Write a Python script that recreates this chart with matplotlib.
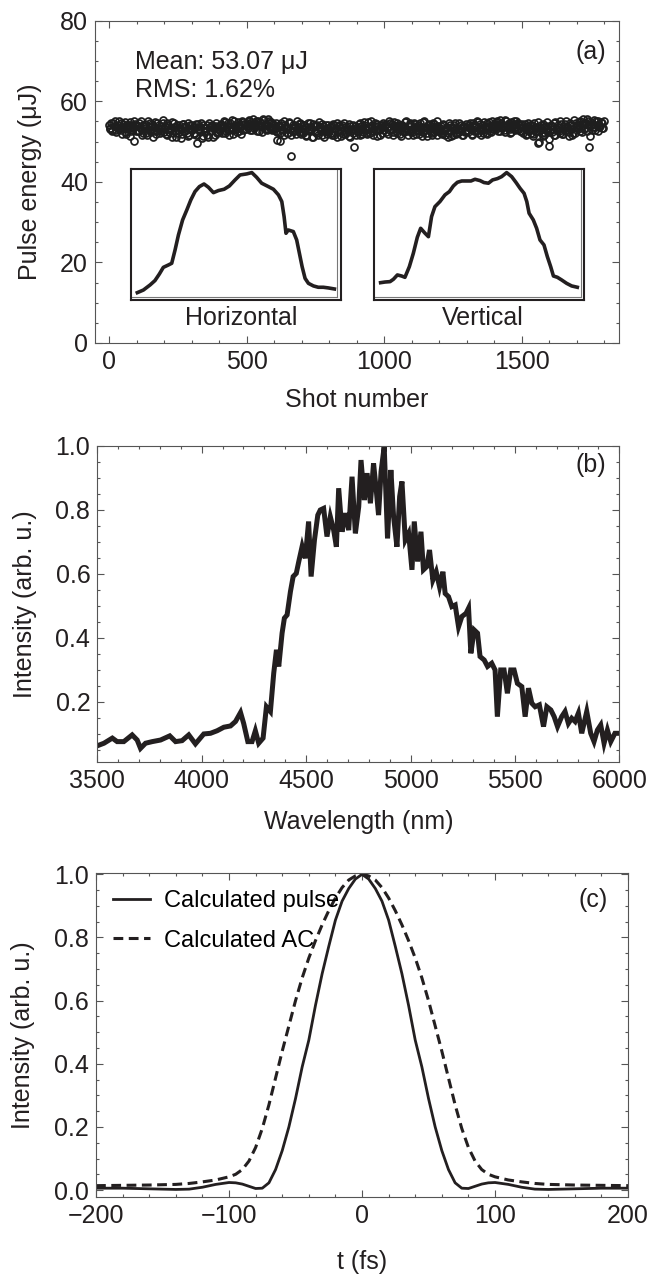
import numpy as np
import matplotlib
matplotlib.use('Agg')
import matplotlib.pyplot as plt
from matplotlib.ticker import MultipleLocator

plt.rcParams['font.family'] = ['Liberation Sans', 'DejaVu Sans']

# ---------------- (a) pulse energy per shot ----------------
# shots 0, 5, 10, ...
energy = [
    54.2, 53.1, 52.8, 54.6, 53.9, 52.4, 53.7, 55.1, 53.3, 52.9, 54.4, 53.6, 51.9, 54.0, 53.2, 54.8, 52.7, 53.5, 50.1, 54.3,
    53.8, 52.5, 54.7, 53.0, 51.6, 54.1, 53.4, 52.2, 55.0, 53.6, 52.9, 54.3, 51.2, 53.7, 52.6, 54.5, 53.1, 52.0, 53.9, 54.6,
    52.4, 53.8, 51.5, 54.2, 52.9, 53.3, 51.1, 54.7, 52.6, 53.5, 52.1, 54.0, 53.2, 51.8, 54.4, 52.7, 53.6, 51.4, 53.0, 54.1,
    52.8, 53.7, 51.9, 54.3, 49.6, 53.1, 52.3, 54.6, 51.3, 53.4, 52.7, 54.0, 51.0, 53.6, 52.5, 54.2, 53.0, 51.7, 53.9, 52.4,
    53.2, 54.4, 52.1, 53.8, 54.9, 52.7, 53.5, 51.6, 54.6, 53.1, 52.9, 55.2, 53.7, 52.3, 54.1, 53.4, 51.9, 54.8, 53.0, 54.3,
    54.5, 53.3, 55.4, 54.0, 52.8, 54.7, 53.6, 55.1, 54.2, 52.5, 54.9, 53.8, 55.5, 53.1, 54.4, 52.9, 55.0, 53.7, 54.6, 53.2,
    54.1, 52.6, 50.4, 53.9, 52.2, 54.5, 53.0, 51.5, 54.2, 53.4, 52.0, 54.8, 46.5, 53.3, 52.7, 54.0, 51.8, 53.6, 52.4, 54.6,
    53.3, 52.1, 54.2, 51.4, 53.7, 52.6, 54.5, 53.0, 51.2, 53.9, 52.4, 54.1, 51.7, 53.5, 52.8, 54.4, 51.0, 53.2, 52.5, 54.0,
    52.7, 53.9, 51.6, 54.3, 52.3, 53.4, 51.1, 54.0, 52.8, 53.6, 51.8, 54.5, 52.2, 53.1, 51.4, 53.8, 52.5, 54.2, 48.6, 53.0,
    53.6, 52.4, 54.7, 53.0, 51.9, 54.2, 53.3, 52.1, 54.9, 53.7, 52.6, 54.0, 51.5, 53.8, 52.9, 54.4, 53.2, 51.7, 54.1, 53.5,
    52.9, 54.3, 53.6, 51.8, 54.6, 53.1, 52.4, 54.9, 53.5, 52.0, 54.2, 53.8, 51.4, 54.0, 52.7, 53.3, 55.0, 52.5, 53.9, 54.4,
    53.0, 51.6, 54.3, 52.8, 53.7, 51.9, 54.6, 53.2, 52.3, 55.1, 53.5, 51.3, 54.0, 52.6, 53.8, 52.1, 54.4, 53.1, 51.7, 53.9,
    52.5, 53.9, 51.8, 54.2, 52.9, 53.4, 51.2, 54.5, 52.7, 53.6, 51.6, 54.0, 53.1, 52.2, 54.7, 52.8, 53.3, 51.5, 53.8, 52.4,
    53.7, 52.3, 54.5, 53.0, 51.9, 54.2, 53.5, 52.6, 54.8, 53.2, 51.6, 54.0, 52.9, 53.8, 52.1, 54.6, 53.4, 52.7, 55.2, 53.1,
    54.3, 53.1, 55.0, 53.7, 52.5, 54.6, 53.9, 52.8, 55.3, 54.1, 53.4, 52.2, 54.8, 53.6, 55.1, 52.9, 54.4, 53.2, 54.0, 52.6,
    53.6, 52.1, 54.4, 51.5, 53.9, 52.7, 54.2, 53.0, 51.8, 54.6, 52.4, 53.5, 49.7, 52.9, 54.1, 51.3, 53.7, 52.2, 54.8, 53.1,
    48.8, 53.8, 52.3, 54.5, 51.6, 53.2, 54.0, 52.6, 55.0, 53.4, 51.9, 54.3, 52.8, 53.7, 51.4, 54.6, 53.0, 52.2, 55.4, 53.5,
    54.2, 53.0, 55.1, 53.7, 52.4, 54.6, 53.3, 55.5, 54.0, 48.7, 54.9, 52.8, 54.4, 53.6, 55.2, 52.6, 54.1, 53.9, 54.7, 53.4,
]
# shots 2, 7, 12, ...
energy_b = [
    53.4, 54.7, 52.6, 53.9, 55.2, 52.9, 54.1, 53.0, 54.5, 51.8, 53.7, 54.9, 52.3, 53.5, 54.2, 51.3, 54.0, 53.3, 55.0, 52.7,
    54.0, 52.7, 53.5, 55.1, 52.0, 53.8, 54.4, 51.5, 53.2, 54.6, 52.4, 53.9, 52.8, 54.8, 51.9, 53.4, 54.2, 52.6, 53.0, 55.3,
    53.6, 51.9, 54.5, 52.3, 53.1, 54.8, 52.0, 53.7, 51.2, 54.0, 52.8, 53.4, 50.9, 54.3, 52.5, 53.9, 52.2, 54.6, 51.6, 53.2,
    54.0, 52.2, 53.5, 51.6, 54.4, 52.9, 53.7, 50.8, 54.1, 52.4, 53.3, 51.7, 54.7, 52.6, 53.9, 51.2, 53.4, 54.5, 52.0, 53.6,
    52.6, 54.1, 53.3, 55.0, 52.2, 53.9, 54.6, 52.8, 53.6, 55.3, 51.8, 54.2, 53.0, 54.8, 52.5, 53.8, 55.1, 52.9, 54.4, 53.2,
    53.8, 55.2, 52.9, 54.5, 55.6, 53.4, 54.1, 52.7, 55.0, 53.9, 54.7, 52.3, 55.3, 54.0, 53.2, 55.5, 53.6, 54.8, 52.8, 54.3,
    53.0, 54.7, 52.3, 53.8, 50.2, 54.2, 52.8, 55.0, 53.4, 52.1, 54.5, 53.1, 51.6, 54.0, 52.5, 53.7, 55.1, 52.9, 54.3, 51.9,
    52.4, 54.0, 53.1, 51.7, 54.6, 52.9, 53.5, 51.1, 54.3, 52.6, 53.8, 52.0, 54.9, 53.2, 51.5, 53.9, 52.7, 54.2, 51.8, 53.4,
    53.5, 52.0, 54.1, 51.5, 53.2, 54.6, 52.4, 53.8, 51.3, 54.2, 52.9, 51.8, 53.6, 52.6, 54.4, 51.2, 53.0, 52.2, 53.9, 51.7,
    52.7, 54.3, 51.6, 53.9, 52.4, 54.8, 53.0, 51.8, 53.6, 52.2, 55.0, 53.3, 52.5, 54.5, 51.3, 53.8, 52.8, 54.1, 52.0, 54.6,
    54.0, 52.3, 53.5, 55.1, 52.8, 54.4, 51.7, 53.9, 52.6, 54.7, 53.2, 51.9, 54.2, 53.6, 52.4, 54.9, 53.0, 51.5, 54.5, 52.7,
    52.4, 54.6, 53.3, 51.8, 54.1, 52.7, 53.6, 51.4, 54.8, 52.9, 53.4, 52.1, 54.3, 53.0, 51.6, 54.5, 52.3, 53.8, 55.2, 52.6,
    53.4, 52.0, 54.3, 52.6, 51.5, 53.7, 52.2, 54.0, 51.3, 53.5, 52.9, 54.6, 51.9, 53.2, 52.4, 54.1, 51.7, 53.9, 52.7, 54.4,
    52.8, 54.1, 53.6, 51.7, 54.6, 52.5, 53.9, 55.0, 52.2, 54.3, 53.1, 52.0, 54.8, 53.4, 51.9, 53.7, 54.9, 52.4, 53.5, 54.2,
    53.5, 54.8, 52.7, 54.2, 55.4, 53.3, 54.0, 52.4, 55.0, 53.8, 54.6, 53.1, 52.3, 54.4, 53.7, 55.2, 53.0, 54.7, 52.6, 54.1,
    54.3, 52.8, 53.4, 51.9, 54.7, 53.0, 52.2, 54.1, 51.4, 53.6, 52.5, 54.9, 50.0, 53.3, 52.0, 54.4, 51.6, 53.8, 52.6, 50.6,
    52.5, 54.2, 53.1, 51.5, 54.8, 52.9, 53.6, 52.1, 54.4, 51.8, 53.9, 52.7, 55.1, 53.3, 52.4, 54.0, 51.7, 53.8, 52.2, 54.6,
    53.6, 54.9, 52.7, 54.3, 55.6, 53.2, 54.6, 52.5, 55.0, 51.3, 54.2, 53.5, 55.4, 52.9, 54.0, 55.1, 53.7, 54.8, 53.3, 55.2,
]
shots = np.arange(len(energy)) * 5
shots_b = np.arange(len(energy_b)) * 5 + 2

# beam profiles (inset), position and intensity both normalised to the frame
h_pos = [0.030, 0.059, 0.091, 0.114, 0.135, 0.154, 0.178, 0.194, 0.210, 0.226, 0.246, 0.266, 0.285, 0.305,
         0.326, 0.348, 0.369, 0.393, 0.417, 0.444, 0.469, 0.496, 0.520, 0.552, 0.576, 0.599, 0.623, 0.655,
         0.679, 0.703, 0.719, 0.730, 0.739, 0.750, 0.774, 0.790, 0.803, 0.816, 0.830, 0.846, 0.870, 0.893,
         0.917, 0.941, 0.970]
h_val = [0.056, 0.076, 0.115, 0.148, 0.198, 0.249, 0.267, 0.280, 0.382, 0.496, 0.611, 0.687, 0.763, 0.827,
         0.865, 0.885, 0.860, 0.819, 0.835, 0.845, 0.870, 0.916, 0.954, 0.962, 0.972, 0.936, 0.891, 0.865,
         0.845, 0.802, 0.751, 0.636, 0.509, 0.534, 0.522, 0.458, 0.356, 0.254, 0.165, 0.127, 0.107, 0.097,
         0.097, 0.092, 0.084]
v_pos = [0.030, 0.051, 0.075, 0.091, 0.110, 0.130, 0.146, 0.167, 0.186, 0.205, 0.221, 0.242, 0.258, 0.273,
         0.289, 0.313, 0.337, 0.358, 0.377, 0.396, 0.417, 0.440, 0.461, 0.480, 0.504, 0.523, 0.544, 0.564,
         0.587, 0.607, 0.631, 0.655, 0.676, 0.695, 0.714, 0.727, 0.738, 0.758, 0.774, 0.790, 0.809, 0.825,
         0.841, 0.854, 0.873, 0.893, 0.917, 0.941, 0.968]
v_val = [0.132, 0.137, 0.140, 0.158, 0.191, 0.183, 0.173, 0.254, 0.356, 0.478, 0.547, 0.509, 0.483, 0.636,
         0.712, 0.751, 0.802, 0.827, 0.870, 0.898, 0.908, 0.908, 0.908, 0.921, 0.911, 0.896, 0.891, 0.916,
         0.926, 0.941, 0.972, 0.941, 0.896, 0.852, 0.814, 0.751, 0.662, 0.611, 0.547, 0.458, 0.420, 0.331,
         0.254, 0.183, 0.173, 0.153, 0.127, 0.107, 0.097]

# ---------------- (b) spectrum ----------------
wavelength = [3500, 3532, 3572, 3595, 3627, 3667, 3691, 3707, 3731, 3763, 3803, 3847, 3875, 3906, 3938, 3970,
              4010, 4042, 4074, 4106, 4138, 4162, 4186, 4201, 4221, 4241, 4257, 4273, 4294, 4310, 4329, 4345,
              4358, 4369, 4385, 4396, 4409, 4425, 4438, 4453, 4465, 4481, 4496, 4512, 4524, 4540, 4556, 4568,
              4584, 4600, 4616, 4632, 4645, 4656, 4672, 4688, 4704, 4720, 4736, 4752, 4763, 4779, 4792, 4808,
              4823, 4836, 4847, 4859, 4874, 4890, 4906, 4919, 4935, 4948, 4959, 4975, 4991, 5007, 5018, 5034,
              5050, 5062, 5078, 5091, 5107, 5123, 5139, 5155, 5166, 5182, 5198, 5214, 5230, 5246, 5266, 5278,
              5289, 5305, 5321, 5333, 5353, 5369, 5389, 5405, 5416, 5432, 5448, 5464, 5480, 5496, 5512, 5533,
              5549, 5565, 5581, 5597, 5617, 5637, 5653, 5672, 5688, 5704, 5724, 5740, 5756, 5772, 5788, 5804,
              5820, 5844, 5863, 5879, 5895, 5911, 5927, 5943, 5959, 5979, 6000]
spectrum = [0.063, 0.071, 0.087, 0.076, 0.076, 0.097, 0.081, 0.055, 0.071, 0.076, 0.081, 0.094, 0.076, 0.079,
            0.097, 0.069, 0.100, 0.102, 0.110, 0.121, 0.125, 0.139, 0.167, 0.133, 0.076, 0.076, 0.110, 0.071,
            0.087, 0.185, 0.170, 0.290, 0.363, 0.311, 0.415, 0.462, 0.472, 0.545, 0.592, 0.602, 0.639, 0.686,
            0.649, 0.764, 0.592, 0.706, 0.784, 0.800, 0.805, 0.717, 0.779, 0.737, 0.685, 0.868, 0.732, 0.790,
            0.737, 0.904, 0.727, 0.810, 0.956, 0.831, 0.915, 0.821, 0.946, 0.862, 0.784, 0.920, 0.998, 0.711,
            0.925, 0.779, 0.685, 0.842, 0.889, 0.706, 0.727, 0.613, 0.764, 0.639, 0.732, 0.613, 0.623, 0.675,
            0.581, 0.607, 0.560, 0.607, 0.539, 0.529, 0.498, 0.503, 0.435, 0.467, 0.477, 0.493, 0.352, 0.425,
            0.415, 0.342, 0.331, 0.311, 0.321, 0.300, 0.154, 0.300, 0.300, 0.227, 0.300, 0.300, 0.258, 0.248,
            0.154, 0.243, 0.196, 0.185, 0.191, 0.123, 0.185, 0.175, 0.154, 0.123, 0.154, 0.170, 0.133, 0.149,
            0.139, 0.165, 0.102, 0.170, 0.102, 0.076, 0.112, 0.128, 0.071, 0.112, 0.076, 0.102, 0.102]

# ---------------- (c) calculated pulse and autocorrelation ----------------
t_fs = [-200, -180, -160, -140, -130, -120, -110, -100, -95, -90, -85, -80, -75, -70, -65, -60, -55, -50,
        -45, -40, -35, -30, -25, -20, -15, -10, -5, 0, 5, 10, 15, 20, 25, 30, 35, 40, 45, 50, 55, 60, 65,
        70, 75, 80, 85, 90, 95, 100, 110, 120, 130, 140, 160, 180, 200]
pulse = [0.006, 0.006, 0.004, 0.002, 0.003, 0.009, 0.018, 0.024, 0.023, 0.019, 0.012, 0.005, 0.006, 0.023,
         0.065, 0.125, 0.200, 0.290, 0.390, 0.475, 0.585, 0.685, 0.772, 0.855, 0.915, 0.955, 0.985, 1.000,
         0.985, 0.955, 0.915, 0.855, 0.772, 0.685, 0.585, 0.475, 0.390, 0.290, 0.200, 0.125, 0.065, 0.023,
         0.006, 0.005, 0.012, 0.019, 0.023, 0.024, 0.018, 0.009, 0.003, 0.002, 0.004, 0.006, 0.006]
autocorr = [0.014, 0.015, 0.016, 0.018, 0.021, 0.026, 0.032, 0.042, 0.050, 0.065, 0.092, 0.135, 0.195, 0.270,
            0.355, 0.440, 0.520, 0.600, 0.672, 0.735, 0.790, 0.840, 0.885, 0.925, 0.958, 0.982, 0.995, 1.000,
            0.995, 0.982, 0.958, 0.925, 0.885, 0.840, 0.790, 0.735, 0.672, 0.600, 0.520, 0.440, 0.355, 0.270,
            0.195, 0.135, 0.092, 0.065, 0.050, 0.042, 0.032, 0.026, 0.021, 0.018, 0.016, 0.015, 0.014]

INK = '#231f20'
FRAME = '#555555'
FS = 18


def style_axes(ax, xmaj, xmin, ymaj, ymin):
    ax.xaxis.set_major_locator(MultipleLocator(xmaj))
    ax.xaxis.set_minor_locator(MultipleLocator(xmin))
    ax.yaxis.set_major_locator(MultipleLocator(ymaj))
    ax.yaxis.set_minor_locator(MultipleLocator(ymin))
    ax.tick_params(which='both', direction='in', top=True, right=True, color=FRAME, width=0.8,
                   labelsize=FS, labelcolor=INK)
    ax.tick_params(which='major', length=5)
    ax.tick_params(which='minor', length=2.5)
    ax.tick_params(axis='x', pad=5)
    ax.tick_params(axis='y', pad=5)
    for sp in ax.spines.values():
        sp.set_color(FRAME)
        sp.set_linewidth(0.8)


fig = plt.figure(figsize=(6.65, 12.75), dpi=100)

# (a)
ax_a = fig.add_axes([0.1429, 0.7310, 0.7884, 0.2528])
for xs, ys in [(shots, energy), (shots_b, energy_b)]:
    ax_a.plot(xs, ys, 'o', ms=5.0, mfc='none', mec='#1e1e1e', mew=1.25)
ax_a.set_xlim(-51, 1854)
ax_a.set_ylim(0, 80)
style_axes(ax_a, 500, 100, 20, 5)
ax_a.set_xlabel('Shot number', fontsize=FS, color=INK)
ax_a.set_ylabel('Pulse energy (μJ)', fontsize=FS, color=INK)
ax_a.xaxis.set_label_coords(0.5, -0.177)
ax_a.xaxis.label.set_va('center')
ax_a.yaxis.set_label_coords(-0.124, 0.5)
ax_a.yaxis.label.set_va('center')
ax_a.text(0.077, 0.873, 'Mean: 53.07 μJ', transform=ax_a.transAxes, fontsize=FS, color=INK, va='center')
ax_a.text(0.077, 0.785, 'RMS: 1.62%', transform=ax_a.transAxes, fontsize=FS, color=INK, va='center')
ax_a.text(0.975, 0.904, '(a)', transform=ax_a.transAxes, fontsize=FS, color=INK, va='center', ha='right')

for (x0, x1), pos, val, name, lx in [((0.0687, 0.4686), h_pos, h_val, 'Horizontal', 0.279),
                                      ((0.5327, 0.9327), v_pos, v_val, 'Vertical', 0.740)]:
    ins = ax_a.inset_axes([x0, 0.1334, x1 - x0, 0.540 - 0.1334])
    ins.plot(pos, val, color=INK, lw=2.6, solid_joinstyle='round')
    ins.plot([0.984, 0.984], [0.025, 1.0], color='#777777', lw=0.8)
    ins.plot([0.0, 0.984], [0.025, 0.025], color='#777777', lw=0.8)
    ins.set_xlim(0, 1)
    ins.set_ylim(0, 1)
    ins.set_xticks([])
    ins.set_yticks([])
    for sp in ins.spines.values():
        sp.set_color(INK)
        sp.set_linewidth(1.5)
    ax_a.text(lx, 0.078, name, transform=ax_a.transAxes, fontsize=FS, color=INK, ha='center', va='center')

# (b)
ax_b = fig.add_axes([0.1463, 0.4024, 0.7850, 0.2478])
ax_b.plot(wavelength, spectrum, color=INK, lw=3.6, solid_joinstyle='miter')
ax_b.set_xlim(3500, 6000)
ax_b.set_ylim(0.0125, 1.0)
style_axes(ax_b, 500, 100, 0.2, 0.05)
ax_b.set_yticks([0.2, 0.4, 0.6, 0.8, 1.0])
ax_b.set_yticklabels(['0.2', '0.4', '0.6', '0.8', '1.0'])
ax_b.set_xlabel('Wavelength (nm)', fontsize=FS, color=INK)
ax_b.set_ylabel('Intensity (arb. u.)', fontsize=FS, color=INK)
ax_b.xaxis.set_label_coords(0.5, -0.189)
ax_b.xaxis.label.set_va('center')
ax_b.yaxis.set_label_coords(-0.139, 0.5)
ax_b.yaxis.label.set_va('center')
ax_b.text(0.974, 0.94, '(b)', transform=ax_b.transAxes, fontsize=FS, color=INK, va='center', ha='right')

# (c)
ax_c = fig.add_axes([0.1444, 0.0614, 0.8000, 0.2536])
ax_c.plot(t_fs, pulse, color=INK, lw=2.0, label='Calculated pulse')
ax_c.plot(t_fs, autocorr, color=INK, lw=2.2, ls=(0, (3.2, 1.8)), label='Calculated AC')
ax_c.set_xlim(-200, 200)
ax_c.set_ylim(-0.021, 1.003)
style_axes(ax_c, 100, 20, 0.2, 0.05)
ax_c.set_yticks([0.0, 0.2, 0.4, 0.6, 0.8, 1.0])
ax_c.set_yticklabels(['0.0', '0.2', '0.4', '0.6', '0.8', '1.0'])
ax_c.set_xlabel('t (fs)', fontsize=FS, color=INK)
ax_c.set_ylabel('Intensity (arb. u.)', fontsize=FS, color=INK)
ax_c.xaxis.set_label_coords(0.5, -0.201)
ax_c.xaxis.label.set_va('center')
ax_c.yaxis.set_label_coords(-0.137, 0.5)
ax_c.yaxis.label.set_va('center')
ax_c.text(0.962, 0.917, '(c)', transform=ax_c.transAxes, fontsize=FS, color=INK, va='center', ha='right')
ax_c.legend(loc='upper left', bbox_to_anchor=(0.0, 1.0), frameon=False, fontsize=FS - 1,
            handlelength=1.6, handletextpad=0.6, labelspacing=0.75, borderaxespad=0.3)

fig.savefig('out.png', dpi=100)
